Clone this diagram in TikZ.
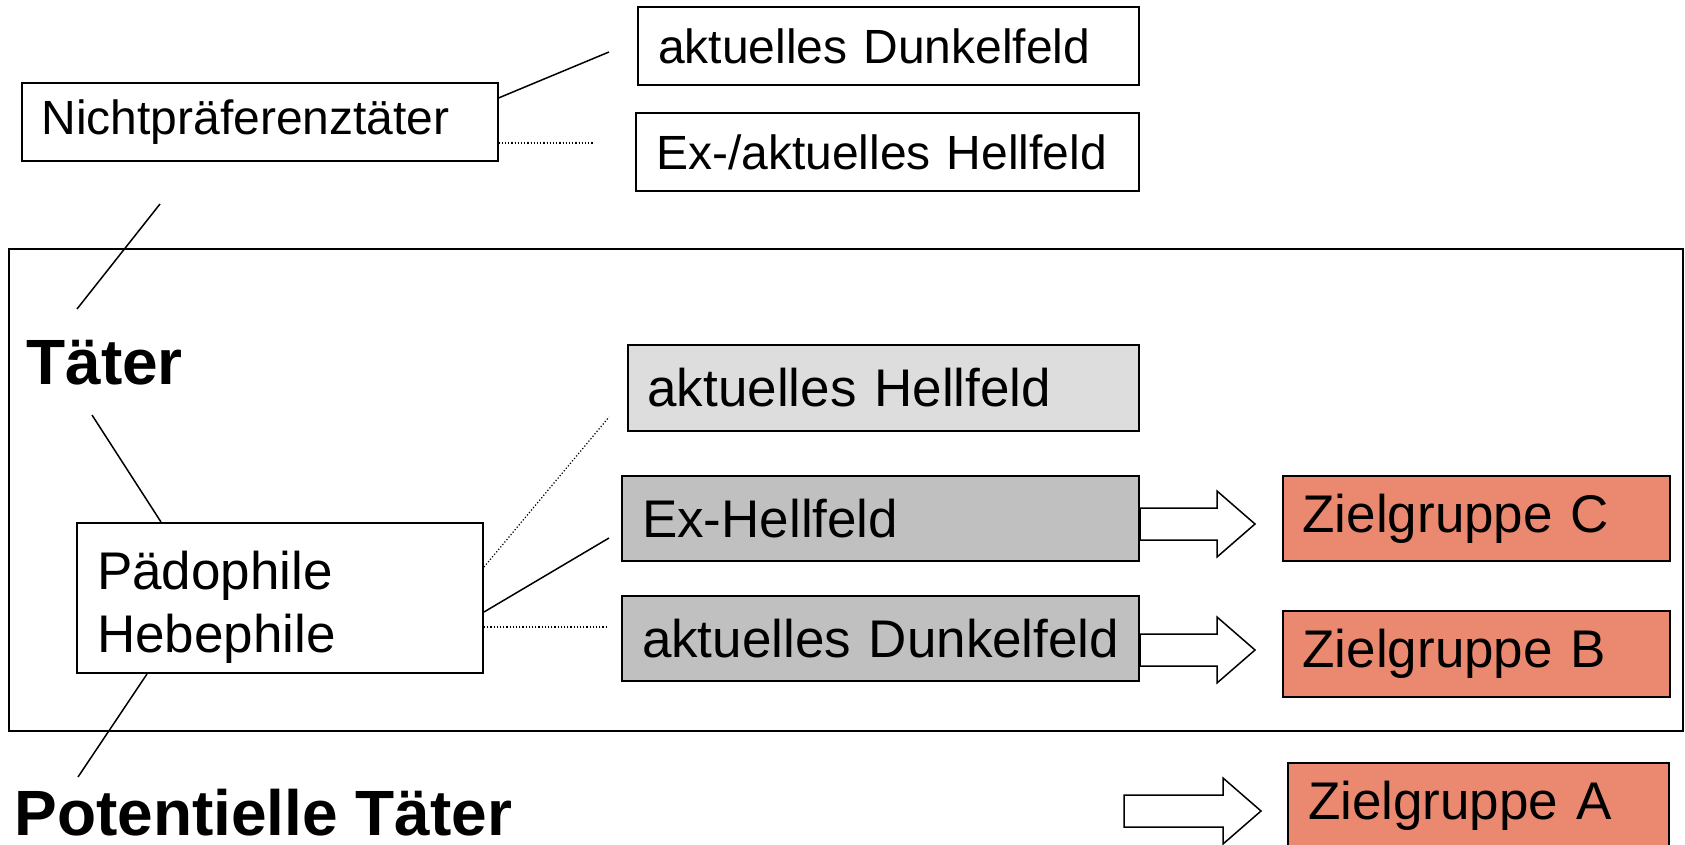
\documentclass[tikz,border=0pt]{standalone}
\usepackage{fontspec}
\setmainfont{Liberation Sans}
\usetikzlibrary{calc}
\definecolor{zielrot}{RGB}{235,137,112}
\definecolor{hellgrau}{RGB}{221,221,221}
\definecolor{dunkelgrau}{RGB}{192,192,192}

\begin{document}
\begin{tikzpicture}[x=0.5pt, y=-0.5pt,
  box/.style={draw, line width=1pt, inner xsep=10pt, inner ysep=0pt, align=left, font=\fontsize{24}{31.5}\selectfont},
  bigbox/.style={box, font=\fontsize{26.5}{31.5}\selectfont},
  title/.style={inner sep=0pt, anchor=base west, font=\fontsize{32}{38}\selectfont\bfseries},
  link/.style={line width=0.75pt},
  dots/.style={line width=0.6pt, densely dotted},
  fatarrow/.style={draw, line width=0.75pt, fill=white, to path={let \p1=(\tikztostart), \p2=(\tikztotarget) in
    (\x1,\y1+8pt) -- (\x2-19pt,\y1+8pt) -- (\x2-19pt,\y1+16.5pt) -- (\x2,\y1)
    -- (\x2-19pt,\y1-16.5pt) -- (\x2-19pt,\y1-8pt) -- (\x1,\y1-8pt) -- cycle}}]
  \useasboundingbox (0,0) rectangle (1685,845);

  % frame of the Taeter group
  \draw[line width=1pt] (8.6,249) rectangle (1683,731);

  % top row
  \node (nicht) at (259.5,122) [box, text width=218pt, minimum height=39pt] {Nichtpräferenztäter};
  \node (dunkTop) at (888.5,46) [box, text width=230.5pt, minimum height=38.75pt] {aktuelles Dunkelfeld};
  \node (hellTop) at (887.5,152) [box, text width=231.5pt, minimum height=39pt] {Ex-/aktuelles Hellfeld};

  % titles
  \node (taeter) at (26,384) [title] {Täter};
  \node (potTaeter) at (14,835) [title] {Potentielle Täter};

  % inner group
  \node (paedo) at (280,598) [bigbox, text width=183pt, minimum height=75pt] {\rule{0pt}{28pt}Pädophile\\Hebephile};
  \node (hellAkt) at (883,388) [bigbox, fill=hellgrau, text width=235.5pt, minimum height=43pt] {aktuelles Hellfeld};
  \node (exHell) at (880.5,518.5) [bigbox, fill=dunkelgrau, text width=238.5pt, minimum height=42.5pt] {Ex-Hellfeld};
  \node (dunkAkt) at (880.5,638.5) [bigbox, fill=dunkelgrau, text width=238.5pt, minimum height=42.5pt] {\mbox{aktuelles Dunkelfeld}};

  % target groups
  \node (zielC) at (1476,518.5) [bigbox, fill=zielrot, text width=173.5pt, minimum height=42.5pt] {Zielgruppe C};
  \node (zielB) at (1476,654) [bigbox, fill=zielrot, text width=173.5pt, minimum height=43pt] {Zielgruppe B};
  \node (zielA) at (1478.5,806) [bigbox, fill=zielrot, text width=170.5pt, minimum height=43pt] {Zielgruppe A};

  % free ends of the connectors
  \coordinate (nDunk) at (609,52);
  \coordinate (nHell) at (594,143);
  \coordinate (tUp) at (160,204);
  \coordinate (tLow) at (77,309);
  \coordinate (tPaed) at (92,415);
  \coordinate (pPot) at (78,777);
  \coordinate (pHell) at (609,417);
  \coordinate (pEx) at (609,538);
  \coordinate (pDunk) at (607,627);

  \draw[link] (nicht.east |- 0,98) -- (nDunk);
  \draw[dots] (nicht.east |- 0,143) -- (nHell);
  \draw[link] (tUp) -- (tLow);
  \draw[link] (tPaed) -- (paedo.north -| 161,0);
  \draw[link] (paedo.south -| 147,0) -- (pPot);
  \draw[dots] (paedo.east |- 0,567) -- (pHell);
  \draw[link] (paedo.east |- 0,612) -- (pEx);
  \draw[dots] (paedo.east |- 0,627) -- (pDunk);

  % block arrows
  \coordinate (tipC) at (1255,524);
  \coordinate (tipB) at (1255,650);
  \coordinate (tailA) at (1124,811);
  \coordinate (tipA) at (1261,811);
  \draw[fatarrow] (exHell.east |- tipC) to (tipC);
  \draw[fatarrow] (dunkAkt.east |- tipB) to (tipB);
  \draw[fatarrow] (tailA) to (tipA);
\end{tikzpicture}
\end{document}
